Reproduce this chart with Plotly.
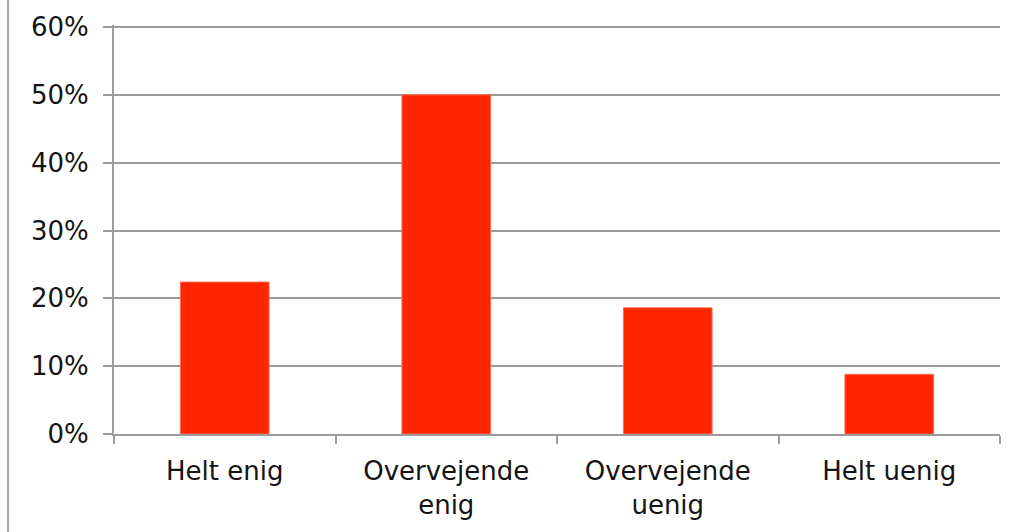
import plotly.graph_objects as go

categories = ["Helt enig", "Overvejende<br>enig", "Overvejende<br>uenig", "Helt uenig"]
values = [0.224, 0.50, 0.186, 0.088]
y_ticks = [0, 0.1, 0.2, 0.3, 0.4, 0.5, 0.6]

grey = "#9b9b9b"
font = dict(family="DejaVu Sans, Verdana, sans-serif", size=26, color="#141414")

fig = go.Figure(
    go.Bar(
        x=categories,
        y=values,
        width=0.4,
        marker=dict(color="#ff2600", line=dict(color="#ff6a50", width=1)),
        hoverinfo="skip",
    )
)

fig.update_layout(
    width=1024,
    height=532,
    margin=dict(l=114, r=24, t=23, b=95),
    paper_bgcolor="white",
    plot_bgcolor="white",
    font=font,
    showlegend=False,
    shapes=[
        dict(type="line", xref="paper", yref="paper",
             x0=-0.1196, x1=-0.1196, y0=-0.3, y1=1.1,
             line=dict(color="#a6a6a6", width=2)),
    ],
)

fig.update_xaxes(
    showgrid=False,
    showline=True,
    linecolor=grey,
    linewidth=2,
    ticks="outside",
    tickson="boundaries",
    ticklen=8,
    tickwidth=2,
    tickcolor=grey,
    ticklabelstandoff=13,
    tickfont=font,
    fixedrange=True,
)

fig.update_yaxes(
    range=[0, 0.603],
    tickvals=y_ticks,
    tickformat=".0%",
    showgrid=True,
    gridcolor=grey,
    gridwidth=2,
    showline=True,
    linecolor=grey,
    linewidth=2,
    ticks="outside",
    ticklen=9,
    tickwidth=2,
    tickcolor=grey,
    ticklabelstandoff=9,
    tickfont=font,
    zeroline=False,
    fixedrange=True,
)

fig.write_html(
    "out.html",
    config={"displayModeBar": False},
    post_script="document.body.style.margin='0';document.body.style.overflow='hidden';",
)
